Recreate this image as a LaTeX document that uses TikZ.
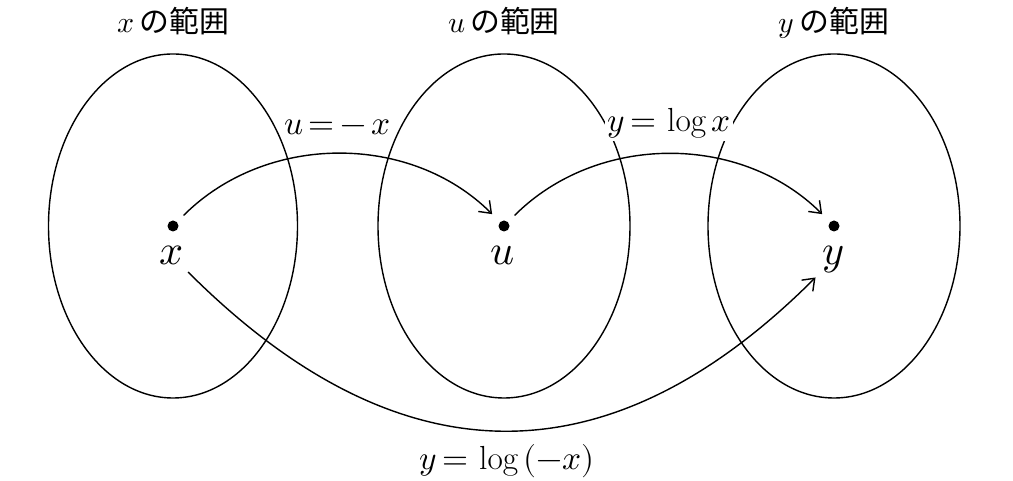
\documentclass[tikz,border=0pt]{standalone}
\usepackage{fontspec}
\usepackage{unicode-math}
\newfontfamily\jpfont{Noto Sans CJK JP}
\usepackage{tikz}
\usetikzlibrary{arrows.meta}

\begin{document}
\begin{tikzpicture}[thick,>={Straight Barb[length=6pt,width=9pt]},
    dot/.style={circle,fill=black,inner sep=0pt,minimum size=0.22cm},
    var/.style={anchor=base,font=\fontsize{24}{28}\selectfont},
    rng/.style={anchor=base,font=\fontsize{17}{20}\selectfont},
    map/.style={anchor=base,fill=white,inner sep=1pt,font=\fontsize{19}{23}\selectfont}]
    \useasboundingbox (0,0) rectangle (20.26,9.62);
    % points
    \node[dot] (px) at (3.46,5.10) {};
    \node[dot] (pu) at (10.08,5.10) {};
    \node[dot] (py) at (16.68,5.10) {};
    % ranges
    \draw (px.center) ellipse (2.49 and 3.44);
    \draw (pu.center) ellipse (2.52 and 3.44);
    \draw (py.center) ellipse (2.52 and 3.44);
    \node[rng] (tx) at (3.47,8.96) {$x$\,\jpfont の範囲};
    \node[rng] (tu) at (10.08,8.96) {$u$\,\jpfont の範囲};
    \node[rng] (ty) at (16.68,8.96) {$y$\,\jpfont の範囲};
    % variables
    \node[var] (lx) at (3.44,4.32) {$x$};
    \node[var] (lu) at (10.06,4.32) {$u$};
    \node[var] (ly) at (16.66,4.32) {$y$};
    % maps
    \node[map,inner sep=0.5pt] (mxu) at (6.75,6.92) {$u\,{=}\,{-}\,x$};
    \node[map] (muy) at (13.38,6.98) {$y\,{=}\,\log x$};
    \node[map] (mxy) at (10.14,0.22) {$y\,{=}\,\log\,(-x)$};
    \draw[->,shorten <=5pt,shorten >=6pt] (px) to[out=45,in=135] (pu);
    \draw[->,shorten <=5pt,shorten >=6pt] (pu) to[out=45,in=135] (py);
    \draw[->] (lx) to[out=-45,in=-135,looseness=1.2] (ly);
\end{tikzpicture}
\end{document}
